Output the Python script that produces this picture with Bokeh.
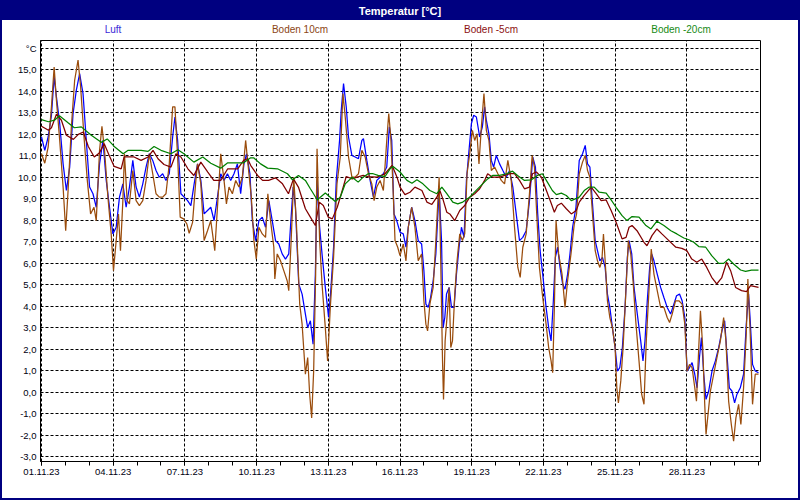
import numpy as np
import pandas as pd
from bokeh.plotting import figure
from bokeh.models import FixedTicker, DatetimeTickFormatter, Range1d, Div
from bokeh.layouts import column
from bokeh.embed import file_html
from bokeh.resources import INLINE

START = pd.Timestamp("2023-11-01 00:00")

# ---- data: hours since 01.11.23 00:00 and temperatures in °C ----
luft_h = [0, 3.3, 6.7, 10, 12.7, 15, 18.3, 21.7, 25, 28.3,
          31.7, 35, 38.3, 41.7, 45, 48.3, 51.7, 55, 58.3, 61.7,
          65, 68.3, 71.7, 75, 78.3, 81.7, 85, 88.3, 91.7, 95,
          98.3, 101.7, 105, 108.3, 111.7, 115, 118.3, 121.7, 125, 128.3,
          131.7, 134, 136.7, 140, 143.3, 146.7, 150, 153.3, 156.7, 160,
          163.3, 166.7, 170, 173.3, 176.7, 180,
          183.3, 186.7, 190, 193.3, 196.7, 200, 203.3, 206, 209.3, 211.7,
          215, 218.3, 221.7, 225, 228.3, 231.7, 235, 238.3, 241.7, 245,
          248.3, 250, 252.7, 255, 258.3, 261.7, 265, 267.3, 270, 272.7,
          275, 276.7, 279.3, 281.7, 285, 288.3, 290.7, 293.3, 296, 299.3,
          301, 303.3, 306, 308.3, 311.7, 315, 318.3, 321.7, 323.3, 326.7,
          330, 333.3, 336.7, 340, 343.3, 346.7, 349.3, 351.7, 354, 356.7,
          360,
          363.3, 366, 368.3, 371.7, 375, 378.3, 381.7, 384, 386, 388.3,
          390.7, 393.3, 396, 397.7, 399.3, 401.7, 403.3, 405, 406.7, 409.3,
          411.7, 414.3, 416.7, 419.3, 421.7, 424.3, 426.7, 429.3, 431.7, 434,
          436.7, 440, 442.7, 445, 446.7, 449.3, 451.7, 454, 456.7, 460,
          463.3, 466.7, 470, 473.3, 476.7, 480, 483.3, 486.7, 490, 493.3,
          496, 498.3, 500.7, 503.3, 506.7, 509.3, 511.7, 514, 516, 518.3,
          520.7, 523.3, 525.7, 528.3, 530.7, 533.3, 536.7,
          540, 543.3, 546, 548.3, 550.7, 553.3, 556, 558.3, 560.7, 563.3,
          566, 568.3, 570.7, 573.3, 576, 578.3, 580.7, 583.3, 586, 588.3,
          590, 592.7, 595, 598.3, 601.7, 604, 606, 608.3, 610.7, 612.7,
          615, 618.3, 621.7, 625, 628.3, 631.7, 635, 637.7, 640.7, 643.3,
          646, 648.3, 650.7, 653.3, 656, 658.3, 660.7, 662.7, 665, 667.3,
          670, 673.3, 676.7, 680, 683.3, 686, 688.3, 690.7, 693.3, 696,
          698.3, 701.7, 705, 707.7, 710, 711.7, 714, 716.7, 720]
luft_v = [11.88, 11.26, 11.88, 12.89, 14.68, 13.75, 12.50, 10.63, 9.39, 10.48,
          12.97, 14.06, 14.83, 13.90, 11.72, 9.55, 9.24, 8.61, 10.63, 11.72,
          9.86, 8.61, 7.37, 7.68, 9.08, 9.70, 8.61, 9.55, 10.79, 9.55,
          9.08, 9.70, 10.48, 11.10, 10.79, 10.32, 10.01, 10.17, 9.86, 10.17,
          11.88, 12.81, 11.72, 9.24, 9.08, 8.92, 8.69, 9.70, 10.63, 9.86,
          8.30, 8.46, 8.61, 7.99, 9.08, 10.17,
          9.86, 10.17, 9.86, 10.17, 10.63, 9.24, 10.63, 11.10, 10.17, 7.99,
          7.06, 7.99, 8.15, 7.68, 8.92, 7.99, 7.06, 6.90, 6.44, 6.20,
          6.44, 7.68, 9.55, 8.61, 5.04, 4.57, 3.64, 3.01, 3.33, 2.24,
          5.50, 9.86, 7.68, 6.44, 4.88, 3.48, 4.88, 6.75, 9.86, 11.72,
          13.12, 14.37, 13.28, 11.88, 11.02, 10.95, 10.87, 11.72, 11.80, 10.79,
          9.86, 9.08, 9.86, 10.01, 10.17, 10.48, 12.35, 11.72, 8.30, 7.99,
          7.45,
          7.37, 6.75, 7.68, 8.61, 7.99, 7.06, 6.90, 5.66, 4.10, 3.95,
          4.41, 5.19, 6.44, 7.99, 9.39, 7.06, 3.01, 3.48, 4.57, 4.88,
          3.95, 3.95, 5.50, 6.75, 7.68, 7.21, 9.86, 11.26, 12.50, 12.89,
          12.81, 11.88, 12.35, 13.28, 12.66, 12.03, 10.79, 10.48, 11.02, 10.63,
          10.32, 10.01, 10.32, 9.55, 8.30, 7.06, 7.21, 7.52, 8.92, 10.95,
          10.48, 8.30, 6.59, 5.50, 3.95, 3.01, 2.39, 4.26, 6.28, 6.75,
          5.81, 5.04, 4.80, 5.50, 6.44, 7.68, 8.61,
          10.79, 11.10, 11.49, 10.63, 10.48, 8.77, 7.06, 6.59, 6.12, 6.28,
          5.81, 4.57, 3.95, 3.01, 2.08, 0.99, 1.15, 2.08, 3.95, 6.28,
          7.06, 6.44, 4.88, 3.64, 2.39, 1.46, 2.39, 4.26, 5.81, 6.44,
          6.12, 5.50, 4.88, 4.41, 3.95, 3.64, 4.10, 4.49, 4.57, 4.26,
          3.48, 0.99, 1.15, 1.38, 0.84, 0.21, 1.62, 2.55, 0.84, -0.33,
          0.06, 0.99, 1.46, 2.08, 2.86, 3.33, 1.77, 0.21, 0.06, -0.49,
          -0.10, 0.21, 0.84, 3.17, 4.57, 3.33, 1.30, 0.99, 0.91]

boden10_h = [0, 3.3, 6.7, 10, 12.7, 15, 18.3, 21.7, 24.3, 26.7,
             30, 33.3, 36.7, 39.3, 42.7, 46, 49.3, 52.7, 55, 58.3,
             60.7, 63.3, 66.7, 70, 72.3, 75, 77.3, 79.3, 81.7, 83.3,
             86, 88.3, 91.7, 95, 98.3, 101.7, 105, 108.3, 111.7, 115,
             118.3, 121.7, 125, 128.3, 131.7, 134, 136.7, 139.3, 142.7, 146,
             148.3, 151.7, 155, 156.7, 160, 163.3, 166.7, 170, 174, 176.7,
             180,
             183.3, 185.7, 188.3, 191.7, 195, 198.3, 201.7, 205, 208.3, 210.7,
             213.3, 215.7, 218.3, 221.7, 225, 227.3, 230, 233.3, 234.3, 236.7,
             240, 243.3, 246.7, 248.3, 250.7, 253.3, 256, 259.3, 261.7, 265,
             267.3, 269.3, 271.3, 273.3, 275.3, 276.7, 279.3, 281.7, 285, 287.3,
             290, 293.3, 296.7, 300, 302.7, 305, 308.3, 311.7, 315, 318.3,
             321.7, 325, 328.3, 331.7, 334, 336.7, 340, 343.3, 346.7, 348.7,
             350.7, 352.7, 355, 357.7, 360,
             363.3, 366, 368.3, 371.7, 375, 378.3, 381.7, 384, 386, 387.7,
             390, 393.3, 396, 397.7, 399.3, 401, 402.7, 403.7, 405.3, 407.7,
             409.3, 411, 412.7, 415, 417.3, 420, 422.7, 425, 427.3, 430,
             432.7, 435, 437.3, 439.3, 441.7, 444.3, 446.7, 449.3, 451.7, 455,
             458.3, 461.7, 465, 468.3, 471.7, 475, 478.3, 480.7, 483.3, 486.7,
             490, 492.7, 495, 497.3, 500, 503.3, 506.7, 509.3, 511.7, 513.3,
             515, 516.7, 519.3, 522.7, 525.7, 528.3, 531.7, 535, 537.3,
             540, 543.3, 546, 548.3, 550.7, 553.3, 556, 558.3, 560.7, 562.7,
             564.3, 566, 568.3, 570.7, 573.3, 576, 577.7, 579.3, 581.7, 584,
             586.7, 589.3, 591.7, 594, 596.7, 600, 602.7, 605, 607.3, 610,
             612.3, 615, 618.3, 621.7, 625, 628.3, 630.7, 633.3, 636.7, 640,
             643.3, 646, 648.3, 650.7, 653.3, 656, 657.7, 660, 661.7, 664,
             666, 667.3, 669.3, 671.7, 675, 678.3, 681.7, 685, 687.3, 690,
             692.7, 695, 697.3, 700, 702.3, 705, 707.7, 709.3, 711.7, 714,
             716.7, 720]
boden10_v = [11.10, 10.66, 11.41, 13.28, 15.14, 13.59, 11.72, 9.55, 7.52, 9.39,
             12.35, 14.52, 15.46, 14.21, 11.88, 9.86, 8.30, 8.61, 7.99, 11.26,
             12.38, 11.26, 9.08, 7.37, 5.66, 7.06, 8.30, 6.59, 8.92, 11.10,
             8.92, 8.77, 10.32, 8.92, 8.69, 8.92, 9.86, 11.10, 10.17, 9.24,
             9.08, 9.08, 9.24, 10.63, 13.28, 13.28, 10.95, 8.15, 8.07, 7.83,
             7.40, 7.91, 9.86, 10.63, 9.70, 7.06, 7.52, 7.99, 6.59, 8.61,
             11.10,
             9.86, 8.77, 9.55, 9.24, 9.86, 9.55, 10.01, 11.72, 10.17, 9.08,
             7.06, 6.20, 7.68, 7.37, 7.21, 9.24, 7.99, 6.75, 5.27, 6.44,
             6.12, 5.66, 5.19, 4.73, 7.06, 10.01, 7.83, 4.10, 3.17, 0.84,
             1.62, -0.10, -1.19, 0.99, 5.50, 11.33, 7.06, 5.04, 3.01, 1.46,
             3.95, 6.28, 9.70, 10.95, 13.90, 12.81, 10.95, 10.01, 10.01, 10.17,
             11.26, 10.95, 10.17, 9.70, 8.92, 9.55, 9.86, 9.39, 11.72, 12.97,
             11.88, 9.86, 7.06, 6.75, 6.36,
             6.90, 6.12, 7.68, 8.61, 7.68, 6.12, 6.44, 4.26, 3.17, 2.86,
             4.10, 4.88, 7.06, 8.61, 10.01, 5.81, 1.46, -0.33, 2.39, 3.79,
             4.88, 2.08, 2.39, 4.57, 6.12, 7.37, 7.06, 7.37, 10.17, 11.10,
             12.19, 11.72, 12.03, 10.63, 12.35, 13.90, 12.19, 11.72, 10.32, 10.48,
             10.17, 9.86, 9.70, 10.79, 9.86, 7.68, 5.81, 5.35, 6.75, 7.37,
             9.24, 11.02, 10.48, 8.30, 5.81, 4.41, 3.17, 2.08, 1.46, 0.91,
             3.95, 7.99, 6.44, 5.50, 3.95, 5.19, 6.44, 7.83, 8.30,
             10.17, 10.71, 11.02, 10.32, 10.01, 8.30, 6.59, 6.12, 5.81, 6.12,
             7.37, 6.12, 4.26, 3.48, 3.01, 2.08, 0.21, -0.49, 0.53, 2.08,
             4.57, 7.06, 6.44, 5.19, 3.33, 1.46, -0.10, -0.56, 2.39, 4.73,
             6.67, 5.50, 4.73, 3.95, 3.95, 3.48, 3.25, 3.64, 4.26, 4.26,
             4.10, 3.17, 0.99, 1.30, 1.15, 0.21, -0.41, 2.08, 3.79, 2.08,
             -0.56, -1.96, -1.03, 0.06, 0.84, 1.62, 2.39, 3.48, 2.39, -0.41,
             -1.50, -2.27, -1.19, -0.56, -1.50, 0.21, 2.70, 5.27, 2.70, -0.56,
             0.84, 0.84]

boden5_h = [0, 7, 10, 15, 20, 25, 32, 37, 42, 47,
            53, 58, 63, 68, 73, 80, 83, 93, 100, 107,
            112, 117, 123, 130, 135, 140, 147, 153, 160, 167,
            173, 180,
            187, 197, 203, 207, 210, 217, 222, 228, 235, 242,
            248, 253, 258, 265, 270, 275, 279, 283, 288, 292,
            297, 302, 306, 312, 317, 323, 328, 337, 345, 352,
            357,
            360, 365, 370, 375, 382, 387, 392, 397, 400, 403,
            407, 410, 415, 420, 425, 430, 435, 440, 445, 448,
            453, 460, 465, 470, 475, 480, 485, 490, 493, 497,
            502, 507, 512, 515, 518, 522, 527, 532, 537,
            540, 545, 552, 557, 562, 567, 572, 577, 583, 587,
            590, 593, 598, 605, 608, 613, 618, 623, 630, 637,
            643, 648, 653, 658, 663, 668, 673, 678, 683, 688,
            692, 697, 703, 708, 712, 720]
boden5_v = [12.38, 12.19, 12.31, 12.94, 12.66, 11.96, 11.77, 12.00, 12.11, 11.44,
            10.95, 11.13, 11.57, 11.02, 10.51, 10.40, 10.95, 10.95, 10.79, 10.95,
            11.26, 10.87, 10.60, 10.48, 11.10, 10.95, 10.40, 10.09, 10.71, 10.25,
            9.86, 9.86,
            10.40, 10.40, 10.79, 10.87, 10.56, 10.09, 9.86, 9.86, 9.98, 9.70,
            9.24, 9.93, 9.55, 8.54, 8.15, 7.76, 8.85, 8.69, 8.15, 8.07,
            8.61, 9.39, 10.04, 9.93, 10.01, 10.09, 10.04, 10.01, 10.17, 10.56,
            10.01,
            9.55, 9.20, 9.31, 9.55, 9.39, 8.85, 8.74, 9.08, 9.39, 9.00,
            8.38, 8.30, 7.99, 8.46, 8.69, 9.08, 9.24, 9.47, 9.86, 10.17,
            10.01, 10.01, 10.09, 10.17, 10.17, 9.86, 9.47, 9.55, 10.17, 10.25,
            10.01, 9.39, 8.77, 8.38, 8.69, 8.80, 8.54, 8.30, 8.46,
            8.85, 9.16, 9.55, 9.24, 8.92, 8.95, 8.46, 7.91, 7.14, 7.21,
            7.68, 7.76, 7.52, 6.98, 6.82, 7.29, 7.60, 7.37, 7.06, 6.75,
            6.70, 6.59, 6.20, 6.05, 6.20, 5.81, 5.35, 5.04, 5.32, 6.05,
            5.66, 4.88, 4.73, 4.69, 4.96, 4.88]

boden20_h = [0, 7, 13, 18, 27, 33, 40, 50, 60, 66,
             73, 82, 87, 100, 107, 113, 120, 130, 137, 143,
             153, 162, 170, 180,
             187, 203, 210, 213, 220, 227, 237, 247, 252, 258,
             265, 270, 277, 280, 285, 290, 295, 300, 305, 312,
             318, 323, 328, 333, 338, 345, 350, 353, 360,
             367, 372, 377, 383, 390, 397, 402, 407, 413, 418,
             423, 430, 437, 443, 448, 453, 460, 467, 473, 478,
             485, 492, 498, 503, 508, 513, 517, 522, 527, 532,
             540, 545, 550, 555, 560, 567, 572, 577, 583, 588,
             593, 600, 607, 612, 618, 625, 632, 638, 645, 650,
             655, 660, 667, 673, 680, 685, 690, 695, 702, 707,
             713, 720]
boden20_v = [12.69, 12.59, 12.66, 12.87, 12.53, 12.31, 12.35, 11.96, 11.63, 11.79,
             11.44, 11.10, 11.26, 11.26, 11.21, 11.44, 11.26, 11.10, 11.29, 11.10,
             10.71, 10.95, 10.66, 10.43,
             10.68, 10.68, 10.91, 10.91, 10.63, 10.43, 10.40, 10.17, 9.89, 10.09,
             9.86, 9.47, 8.95, 9.08, 9.27, 9.08, 8.88, 9.08, 9.70, 10.01,
             9.78, 10.01, 10.17, 10.17, 10.09, 10.04, 10.40, 10.51, 10.25,
             9.86, 9.73, 9.89, 9.70, 9.39, 9.24, 9.55, 9.24, 8.85, 8.77,
             8.85, 9.08, 9.42, 9.70, 9.93, 10.09, 10.09, 10.17, 10.29, 10.09,
             9.86, 9.89, 10.09, 10.17, 9.78, 9.39, 9.20, 9.27, 9.16, 8.92,
             9.08, 9.39, 9.55, 9.55, 9.31, 9.27, 8.95, 8.61, 8.22, 7.99,
             8.18, 8.15, 7.76, 7.60, 7.96, 7.76, 7.52, 7.37, 7.18, 7.10,
             6.98, 6.78, 6.75, 6.36, 6.00, 6.00, 6.20, 5.97, 5.69, 5.63,
             5.69, 5.69]

series_names = ["Luft", "Boden 10cm", "Boden -5cm", "Boden -20cm"]
series_colors = ["#0000FF", "#9A4C0C", "#800000", "#008000"]
label_colors = ["#3A2AD8", "#8B4513", "#8B1010", "#168A16"]
y_ticks = list(range(-3, 17))
x_tick_days = list(range(0, 30, 3))
x_minor_days = list(range(0, 31))


def to_time(hours):
    return START + pd.to_timedelta(np.asarray(hours, dtype=float), unit="h")


def to_ms(ts):
    return ts.value / 1e6


FONT = "Liberation Sans"
W = 796  # inner width (2px navy border on each side)

p = figure(width=W, height=458, x_axis_type="datetime",
           output_backend="svg", toolbar_location=None, margin=0,
           x_range=Range1d(START - pd.Timedelta(hours=1), START + pd.Timedelta(hours=722)),
           y_range=Range1d(-3.22, 16.37),
           min_border_left=38, min_border_right=38, min_border_top=0, min_border_bottom=37,
           background_fill_color="white", border_fill_color="white",
           outline_line_color="black", outline_line_width=1)

data = [(luft_h, luft_v), (boden10_h, boden10_v), (boden5_h, boden5_v), (boden20_h, boden20_v)]
for (hh, vv), col in zip(data, series_colors):
    p.line(to_time(hh), vv, line_color=col, line_width=1.25)

# x axis
xt = FixedTicker(ticks=[to_ms(START + pd.Timedelta(days=d)) for d in x_tick_days],
                 minor_ticks=[to_ms(START + pd.Timedelta(days=d)) for d in x_minor_days])
p.xaxis.ticker = xt
fmt = "%d.%m.%y"
p.xaxis.formatter = DatetimeTickFormatter(milliseconds=fmt, seconds=fmt, minsec=fmt, minutes=fmt,
                                          hourmin=fmt, hours=fmt, days=fmt, months=fmt, years=fmt)
p.xaxis.major_tick_in = 0
p.xaxis.major_tick_out = 4
p.xaxis.minor_tick_in = 0
p.xaxis.minor_tick_out = 4
p.xaxis.major_label_standoff = 3

# y axis
p.yaxis.ticker = FixedTicker(ticks=y_ticks, minor_ticks=[])
overrides = {t: f"{t:.1f}".replace(".", ",") for t in y_ticks}
overrides[16] = "°C"
p.yaxis.major_label_overrides = overrides
p.yaxis.major_tick_in = 0
p.yaxis.major_tick_out = 0
p.yaxis.minor_tick_line_color = None
p.yaxis.major_label_standoff = 4

for ax in (p.xaxis, p.yaxis):
    ax.axis_line_color = "black"
    ax.major_tick_line_color = "black"
    ax.major_label_text_font = FONT
    ax.major_label_text_font_size = "9.5px"
    ax.major_label_text_color = "#000010"
p.xaxis.minor_tick_line_color = "black"

for g in (p.xgrid, p.ygrid):
    g.grid_line_color = "black"
    g.grid_line_dash = "3 2"
    g.grid_line_width = 1
    g.grid_line_alpha = 1.0

title_div = Div(text="Temperatur [°C]", width=W, height=18, margin=0,
                styles={"background-color": "#000080", "color": "white", "font-weight": "bold",
                        "font-family": "Liberation Sans, Arial, sans-serif", "font-size": "11px",
                        "text-align": "center", "line-height": "18px"})

legend_x = [111, 298, 489, 679]
spans = "".join(
    f'<span style="position:absolute;left:{lx}px;top:0;transform:translateX(-50%);'
    f'color:{col};white-space:nowrap">{name}</span>'
    for name, col, lx in zip(series_names, label_colors, legend_x))
legend_div = Div(text=f'<div style="position:relative;width:{W}px;height:20px;'
                      f'font-family:Liberation Sans, Arial, sans-serif;font-size:10px;'
                      f'line-height:20px">{spans}</div>',
                 width=W, height=20, margin=0, styles={"background-color": "white"})

layout = column(title_div, legend_div, p, spacing=0, margin=0,
                styles={"border": "2px solid #000080", "background-color": "white"})

open("out.html", "w").write(file_html(layout, INLINE))
